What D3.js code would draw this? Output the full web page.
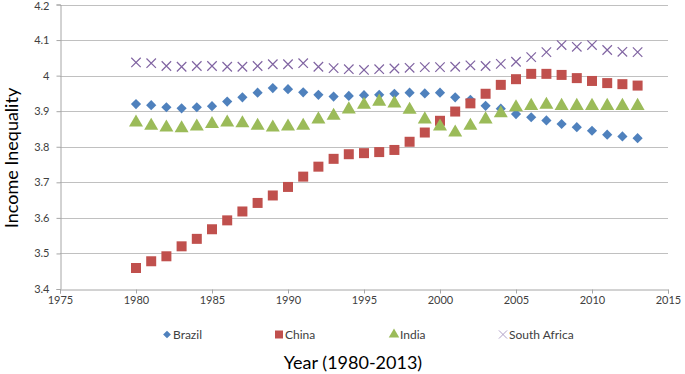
<!DOCTYPE html>
<html>
<head>
<meta charset="utf-8">
<script src="https://cdn.jsdelivr.net/npm/d3@7"></script>
<style>
  body { margin: 0; background: #fff; }
  text { font-family: Lato, "Liberation Sans", sans-serif; }
</style>
</head>
<body>
<svg></svg>
<script>
var w = 685
var h = 374

var svg = d3.select("svg")
            .attr("width", w)
            .attr("height", h)

// years 1980-2013
var years = d3.range(1980, 2014)

// values
var brazil = [3.920, 3.917, 3.911, 3.908, 3.911, 3.914, 3.927, 3.939, 3.952, 3.965,
              3.962, 3.953, 3.946, 3.941, 3.943, 3.945, 3.946, 3.949, 3.952, 3.950,
              3.952, 3.939, 3.932, 3.915, 3.907, 3.892, 3.883, 3.874, 3.864, 3.855,
              3.845, 3.834, 3.829, 3.824]
var china = [3.459, 3.478, 3.492, 3.520, 3.541, 3.568, 3.593, 3.618, 3.642, 3.663,
             3.687, 3.716, 3.744, 3.766, 3.779, 3.782, 3.785, 3.791, 3.814, 3.840,
             3.873, 3.899, 3.922, 3.949, 3.974, 3.990, 4.005, 4.005, 4.002, 3.993,
             3.985, 3.979, 3.976, 3.972]
var india = [3.868, 3.859, 3.854, 3.852, 3.857, 3.864, 3.868, 3.866, 3.859, 3.854,
             3.857, 3.859, 3.877, 3.887, 3.905, 3.918, 3.927, 3.922, 3.904, 3.877,
             3.857, 3.840, 3.859, 3.877, 3.894, 3.911, 3.915, 3.918, 3.915, 3.915,
             3.915, 3.915, 3.915, 3.915]
var southAfrica = [4.037, 4.035, 4.027, 4.025, 4.027, 4.027, 4.025, 4.025, 4.027, 4.032,
                   4.032, 4.035, 4.025, 4.021, 4.018, 4.016, 4.018, 4.020, 4.022, 4.024,
                   4.024, 4.025, 4.029, 4.027, 4.033, 4.039, 4.052, 4.066, 4.086, 4.081,
                   4.086, 4.072, 4.067, 4.066]

var seriesNames = ["Brazil", "China", "India", "South Africa"]
var seriesValues = [brazil, china, india, southAfrica]
var seriesColors = ["#4F81BD", "#C0504D", "#9BBB59", "#8064A2"]
var seriesSymbols = [d3.symbolSquare, d3.symbolSquare, d3.symbolTriangle, d3.symbolX]

var xTicks = [1975, 1980, 1985, 1990, 1995, 2000, 2005, 2010, 2015]
var yTicks = [3.4, 3.5, 3.6, 3.7, 3.8, 3.9, 4.0, 4.1, 4.2]

var xScale = d3.scaleLinear().domain([1975, 2015]).range([60, 668])
var yScale = d3.scaleLinear().domain([3.4, 4.2]).range([289, 4.5])

// gridlines
svg.append("g")
   .selectAll("line")
   .data(yTicks.slice(1))
   .join("line")
   .attr("x1", 60)
   .attr("x2", 668)
   .attr("y1", function(d){ return Math.round(yScale(d)) + 0.5 })
   .attr("y2", function(d){ return Math.round(yScale(d)) + 0.5 })
   .attr("stroke", "#c0c0c0")
   .attr("stroke-width", 1)

// y axis
var yAxis = d3.axisLeft(yScale)
              .tickValues(yTicks)
              .tickSize(4)
              .tickPadding(7)
              .tickFormat(function(d){ return d === 4 ? "4" : d3.format(".1f")(d) })
var gy = svg.append("g")
   .attr("transform", "translate(60.5,0)")
   .call(yAxis)
gy.select(".domain").attr("stroke", "#a6a6a6")
gy.selectAll(".tick line").attr("stroke", "#a6a6a6")
gy.selectAll(".tick text").attr("fill", "#404040").style("font-size", "11px")
gy.selectAll(".tick text").filter(function(d){ return d === 4.2 }).attr("dy", "0.42em")

// x axis
var xAxis = d3.axisBottom(xScale)
              .tickValues(xTicks)
              .tickSize(4)
              .tickPadding(3)
              .tickFormat(d3.format("d"))
var gx = svg.append("g")
   .attr("transform", "translate(0,289.5)")
   .call(xAxis)
gx.select(".domain").attr("stroke", "#a6a6a6")
gx.selectAll(".tick line").attr("stroke", "#a6a6a6")
gx.selectAll(".tick text").attr("fill", "#404040").style("font-size", "11px")

// markers
var symbolSizes = [52, 100, 85, 60]
seriesNames.forEach(function(name, i){
  var sym = d3.symbol().type(seriesSymbols[i]).size(symbolSizes[i])
  svg.append("g")
     .selectAll("path")
     .data(seriesValues[i])
     .join("path")
     .attr("transform", function(d, j){
        return "translate(" + xScale(years[j]) + "," + yScale(d) + ")" + (i === 0 ? " rotate(45)" : "")
     })
     .attr("d", sym)
     .attr("fill", i === 3 ? "none" : seriesColors[i])
     .attr("stroke", i === 3 ? seriesColors[i] : "none")
     .attr("stroke-width", 1.2)
})

// legend
var legendX = [167, 279, 394, 503]
var legendSizes = [30, 64, 48, 45]
seriesNames.forEach(function(name, i){
  var sym = d3.symbol().type(seriesSymbols[i]).size(legendSizes[i])
  svg.append("path")
     .attr("transform", "translate(" + legendX[i] + ",334.5)" + (i === 0 ? " rotate(45)" : ""))
     .attr("d", sym)
     .attr("fill", i === 3 ? "none" : seriesColors[i])
     .attr("stroke", i === 3 ? "#b0a0c8" : "none")
     .attr("stroke-width", 1)
  svg.append("text")
     .attr("x", legendX[i] + 6)
     .attr("y", 339)
     .style("font-size", "12px")
     .attr("fill", "#404040")
     .text(name)
})

// axis titles
svg.append("text")
   .attr("x", 353)
   .attr("y", 369)
   .attr("text-anchor", "middle")
   .style("font-size", "18px")
   .attr("fill", "#000")
   .text("Year (1980-2013)")

svg.append("text")
   .attr("transform", "rotate(-90)")
   .attr("x", -158)
   .attr("y", 18)
   .attr("text-anchor", "middle")
   .style("font-size", "18px")
   .attr("fill", "#000")
   .text("Income Inequality")
</script>
</body>
</html>
